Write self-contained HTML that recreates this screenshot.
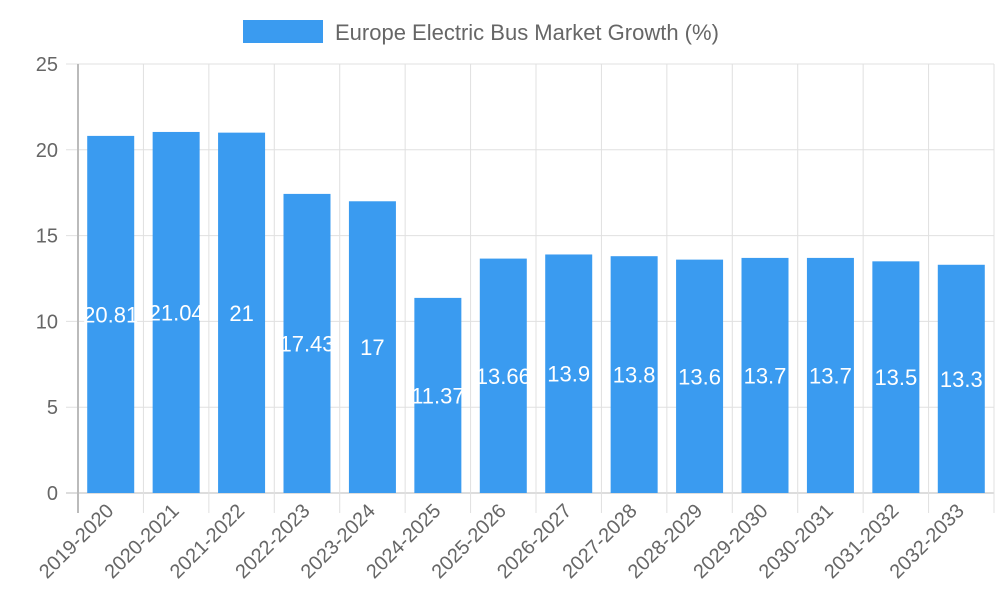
<!DOCTYPE html>
<html><head><meta charset="utf-8"><style>
body{margin:0;background:#fff;}
svg{display:block;font-family:"Liberation Sans",sans-serif;}
</style></head><body>
<svg id="chart" width="1000" height="600">
<g id="grid"></g>
<g id="bars"></g>
<g id="axes"></g>
<g>
<rect x="243" y="20" width="80" height="23" fill="#3a9bf0"/>
<text x="335" y="40" font-size="22" fill="#666">Europe Electric Bus Market Growth (%)</text>
</g>
</svg>
<script>
const categories=["2019-2020","2020-2021","2021-2022","2022-2023","2023-2024","2024-2025","2025-2026","2026-2027","2027-2028","2028-2029","2029-2030","2030-2031","2031-2032","2032-2033"];
const values=[20.81,21.04,21,17.43,17,11.37,13.66,13.9,13.8,13.6,13.7,13.7,13.5,13.3];
const yTicks=[0,5,10,15,20,25];
const NS="http://www.w3.org/2000/svg";
const L=78,R=994,T=64,B=493,yMax=25;
const bw=(R-L)/categories.length;
const y=v=>B-(v/yMax)*(B-T);
const x=i=>L+i*bw;
function mk(tag,attrs,parent,text){const e=document.createElementNS(NS,tag);for(const k in attrs)e.setAttribute(k,attrs[k]);if(text!==undefined)e.textContent=text;document.getElementById(parent).appendChild(e);return e;}
yTicks.forEach(t=>{
  const g=mk('line',{x1:L-12,x2:R,y1:y(t),y2:y(t),stroke:t===0?'#bbb':'#e0e0e0','stroke-width':1},'grid');
  
  
  const tx=mk('text',{x:L-20,y:y(t)+7,'text-anchor':'end','font-size':20,fill:'#666'},'axes',String(t));
  
  
});
for(let i=0;i<=categories.length;i++){
  const g=mk('line',{x1:x(i),x2:x(i),y1:T,y2:B+20,stroke:i===0?'#bbb':'#e0e0e0','stroke-width':i===0?2:1},'grid');
  
  
}
categories.forEach((c,i)=>{
  const cx=x(i)+bw/2, w=47;
  const r=mk('rect',{x:cx-w/2,y:y(values[i]),width:w,height:B-y(values[i]),fill:'#3a9bf0'},'bars');
  
  
  const v=mk('text',{x:cx,y:(y(values[i])+B)/2+8,'text-anchor':'middle','font-size':22,fill:'#fff'},'bars',String(values[i]));
  
  
  const lx=cx+4, ly=512;
  const t=mk('text',{x:lx,y:ly,'text-anchor':'end','font-size':20,fill:'#666',transform:`rotate(-45 ${lx} ${ly})`},'axes',c);
  
  
});
</script>
</body></html>
